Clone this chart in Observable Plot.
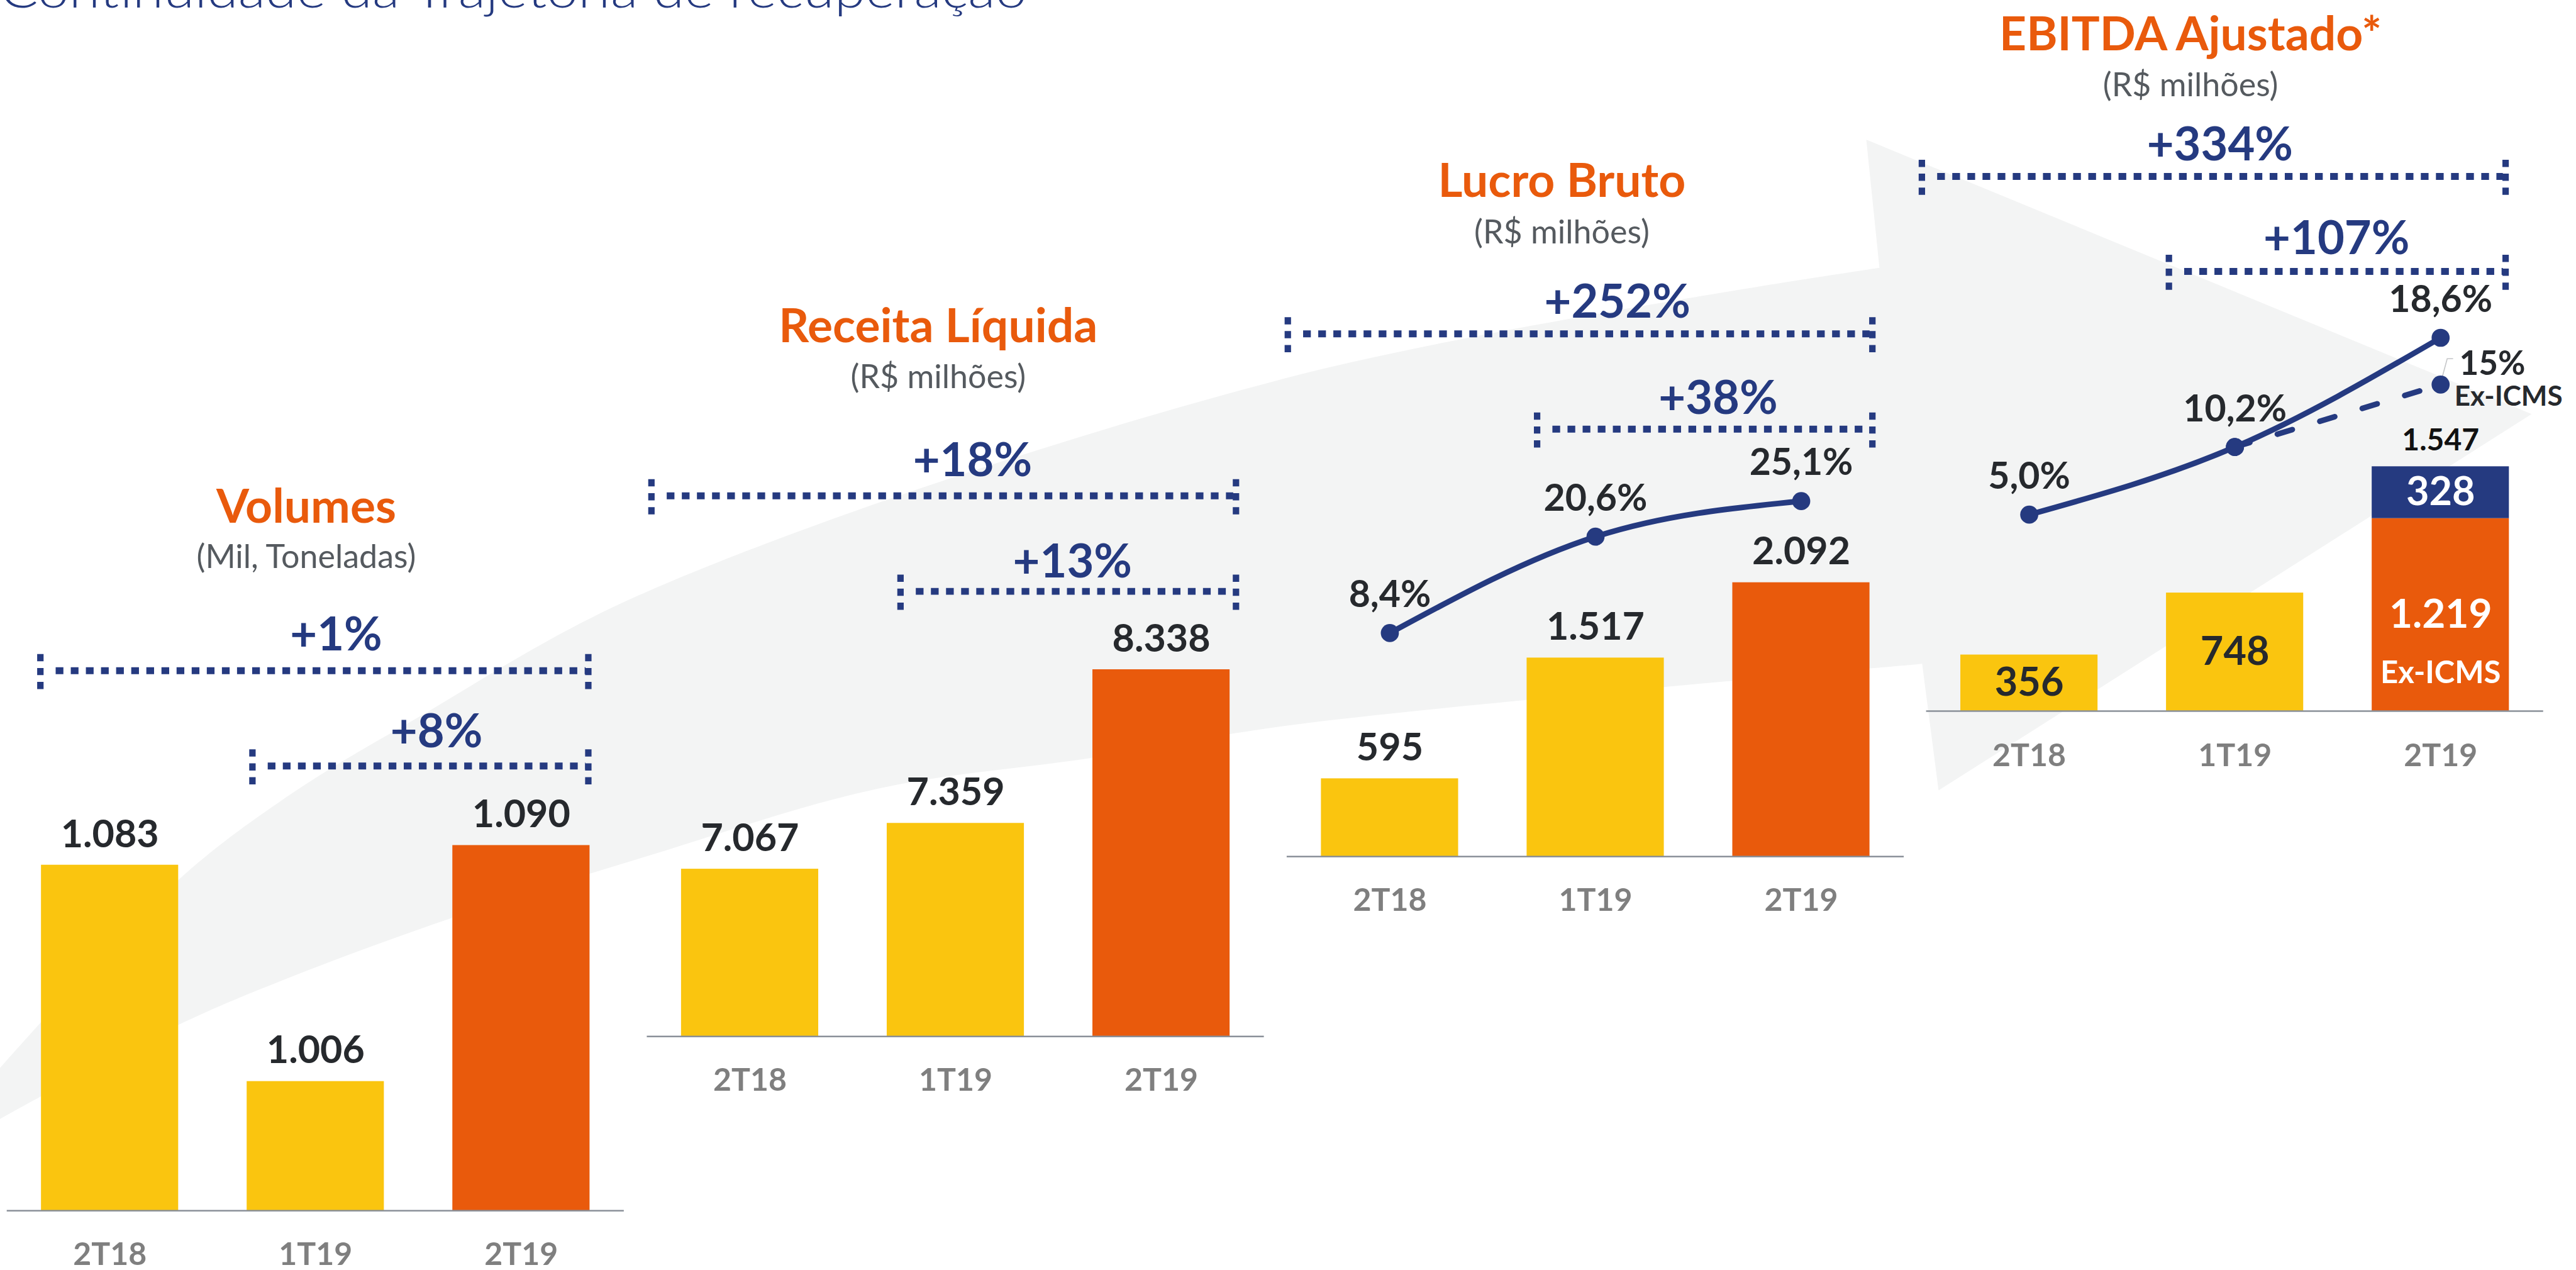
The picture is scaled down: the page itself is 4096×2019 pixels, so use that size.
<!DOCTYPE html>
<html lang="pt-BR">
<head>
<meta charset="utf-8">
<script src="https://cdn.jsdelivr.net/npm/d3@7"></script>
<script src="https://cdn.jsdelivr.net/npm/@observablehq/plot@0.6"></script>
<style>
  html, body { margin: 0; padding: 0; background: #fff; }
  #wrap { position: relative; width: 4096px; height: 2019px; overflow: hidden; background: #fff; }
</style>
</head>
<body>
<div id="wrap"></div>
<script>
// ---------------- data ----------------
const periods = ["2T18", "1T19", "2T19"];
const volumes = [1083, 1006, 1090];
const receitaLiquida = [7067, 7359, 8338];
const lucroBruto = [595, 1517, 2092];
const margemBruta = [8.4, 20.6, 25.1];
const ebitdaExIcms = [356, 748, 1219];
const ebitdaIcms = [0, 0, 328];
const margemEbitda = [5.0, 10.2, 18.6];
const margemEbitdaExIcms = [null, 10.2, 15.0];
const panelTitles = ["Volumes", "Receita Líquida", "Lucro Bruto", "EBITDA Ajustado*"];
const panelUnits = ["(Mil, Toneladas)", "(R$ milhões)", "(R$ milhões)", "(R$ milhões)"];
const growthVolumes = [{from: "2T18", to: "2T19", label: "+1%"}, {from: "1T19", to: "2T19", label: "+8%"}];
const growthReceita = [{from: "2T18", to: "2T19", label: "+18%"}, {from: "1T19", to: "2T19", label: "+13%"}];
const growthLucro = [{from: "2T18", to: "2T19", label: "+252%"}, {from: "1T19", to: "2T19", label: "+38%"}];
const growthEbitda = [{from: "2T18", to: "2T19", label: "+334%"}, {from: "1T19", to: "2T19", label: "+107%"}];
const exIcmsTag = "Ex-ICMS";
const pageTitle = "Continuidade da Trajetória de recuperação";

// ---------------- style / layout ----------------
const W = 4096, H = 2019;
const K = W / 1568; // layout below is given in reference-preview pixels
const NAVY = "#253A80", ORANGE = "#E95A0C", YELLOW = "#FAC50F", DARK = "#26292D",
      GRAY = "#7F7F7F", SUBGRAY = "#555A5F", AXIS = "#8A9099", BG = "#F3F4F4";
const FONT = "Lato, 'Open Sans', 'DejaVu Sans', sans-serif";
const barColors = [YELLOW, YELLOW, ORANGE];
const BW = 0.3335; // half bar width, in category steps

const locale = d3.formatLocale({decimal: ",", thousands: ".", grouping: [3], currency: ["R$", ""]});
const fmtInt = locale.format(",d");
const fmtPct1 = v => locale.format(",.1f")(v) + "%";
const fmtPct0 = v => locale.format(",.0f")(v) + "%";

const layouts = [
  {left: 4.1, right: 379.7, top: 326.2, base: 736.6, yDomain: [960, 1200], tdx: -5.7, ty: 318, uy: 345.6,
   br: [{o1: -0.338, o2: 0.326, line: 408, lx: 0.10, ly: 395.5}, {o1: -0.307, o2: 0.326, line: 466, lx: 0.088, ly: 454.7}]},
  {left: 393.7, right: 769.3, top: 344.1, base: 630.6, yDomain: [6000, 9000], tdx: -10.6, ty: 208, uy: 236,
   br: [{o1: -0.479, o2: 0.363, line: 301.6, lx: 0.082, ly: 289.7}, {o1: -0.268, o2: 0.363, line: 359.7, lx: 0.068, ly: 351.2}]},
  {left: 783.2, right: 1158.8, top: 282.0, base: 521.1, yDomain: [0, 3000], tdx: -20.5, ty: 119.7, uy: 148,
   br: [{o1: -0.496, o2: 0.346, line: 203, lx: 0.106, ly: 193}, {o1: -0.284, o2: 0.346, line: 261, lx: 0.096, ly: 251.6}],
   line: {top: 281.2, bottom: 425.5, yDomain: [0, 30]}},
  {left: 1172.4, right: 1548, top: 240.2, base: 432.6, yDomain: [0, 2000], tdx: -27, ty: 30.4, uy: 58.2,
   br: [{o1: -0.522, o2: 0.316, line: 107.2, lx: -0.073, ly: 97.3}, {o1: -0.321, o2: 0.316, line: 165, lx: -0.006, ly: 154.5}],
   line: {top: 194.3, bottom: 352.6, yDomain: [0, 20]}}
];

const wrap = document.getElementById("wrap");

// ---------------- background arrow + page title ----------------
const bg = d3.select(wrap).append("svg")
  .attr("width", W).attr("height", H)
  .style("position", "absolute").style("left", "0px").style("top", "0px");
const sc = pts => pts.map(([x, y]) => [x * K, y * K]);
const upperEdge = sc([[-10, 662], [0, 650], [108, 536], [176, 484], [252, 438], [394, 360], [787, 229], [1144, 163]]);
const headPts = sc([[1136, 85], [1541, 252], [1180, 481], [1170, 404]]);
const lowerEdge = sc([[1170, 404], [788, 441], [666, 461], [534, 480], [394, 521], [274, 559], [176, 595], [108, 624], [0, 681], [-10, 687]]);
const cr = d3.line().curve(d3.curveCatmullRom);
const arrowD = cr(upperEdge) + headPts.map(p => "L" + p[0] + "," + p[1]).join("") + cr(lowerEdge).replace(/^M/, "L") + "Z";
bg.append("path").attr("d", arrowD).attr("fill", BG);
bg.append("text")
  .attr("x", 0).attr("y", 4.5 * K)
  .attr("font-family", FONT).attr("font-weight", 300).attr("font-size", 78)
  .attr("fill", NAVY)
  .attr("textLength", 625 * K).attr("lengthAdjust", "spacingAndGlyphs")
  .text(pageTitle);

// ---------------- helpers ----------------
function frame(lay, top, bottom, yDomain, marks) {
  const svg = Plot.plot({
    width: W, height: H,
    marginLeft: lay.left * K, marginRight: W - lay.right * K,
    marginTop: top * K, marginBottom: H - bottom * K,
    x: {type: "linear", domain: [-0.5, 2.5], axis: null},
    y: {type: "linear", domain: yDomain, axis: null},
    color: {type: "identity"},
    style: {position: "absolute", left: "0px", top: "0px", background: "transparent", overflow: "visible", fontFamily: FONT},
    marks
  });
  wrap.appendChild(svg);
  return svg;
}

function headerMarks(k, lay) {
  return [
    Plot.text([panelTitles[k]], {frameAnchor: "top", text: d => d, dx: lay.tdx * K, dy: (lay.ty - lay.top) * K,
      lineAnchor: "bottom", fontSize: 75, fontWeight: 700, fill: ORANGE, fontFamily: FONT}),
    Plot.text([panelUnits[k]], {frameAnchor: "top", text: d => d, dx: lay.tdx * K, dy: (lay.uy - lay.top) * K,
      lineAnchor: "bottom", fontSize: 52, fontWeight: 400, fill: SUBGRAY, fontFamily: FONT})
  ];
}

function bracketMarks(growth, lay) {
  const hi = lay.yDomain[1];
  const marks = [];
  growth.forEach((g, j) => {
    const b = lay.br[j];
    const i1 = periods.indexOf(g.from), i2 = periods.indexOf(g.to);
    const a = i1 + b.o1, c = i2 + b.o2;
    marks.push(Plot.ruleY([hi], {x1: () => a, x2: () => c, dy: (b.line - lay.top) * K,
      stroke: NAVY, strokeWidth: 4.2 * K, strokeDasharray: `${4.7 * K},${4.5 * K}`,
      insetLeft: 9.5 * K, insetRight: 1.5 * K}));
    marks.push(Plot.ruleX([a, c], {x: d => d, y1: () => hi, y2: () => hi,
      insetTop: (b.line - 10 - lay.top) * K, insetBottom: -(b.line + 11.5 - lay.top) * K,
      stroke: NAVY, strokeWidth: 3.9 * K, strokeDasharray: `${4.4 * K},${4.1 * K}`}));
    marks.push(Plot.text([g.label], {x: () => (i1 + i2) / 2 + b.lx, y: () => hi, text: d => d,
      dy: (b.ly - lay.top) * K, lineAnchor: "bottom",
      fontSize: 74, fontWeight: 700, fill: NAVY, fontFamily: FONT}));
  });
  return marks;
}

function simpleBarPanel(k, values, growth) {
  const lay = layouts[k];
  const lo = lay.yDomain[0];
  const rows = periods.map((p, i) => ({period: p, i, value: values[i], color: barColors[i]}));
  frame(lay, lay.top, lay.base, lay.yDomain, [
    Plot.rectY(rows, {x1: d => d.i - BW, x2: d => d.i + BW, y1: () => lo, y2: "value", fill: "color"}),
    Plot.ruleY([lo], {stroke: AXIS, strokeWidth: 2.4}),
    Plot.text(rows, {x: "i", y: "value", text: d => fmtInt(d.value), lineAnchor: "bottom", dy: -11 * K,
      fontSize: 61, fontWeight: 700, fill: DARK, fontFamily: FONT}),
    Plot.text(rows, {x: "i", y: () => lo, text: "period", lineAnchor: "bottom", dy: 33 * K,
      fontSize: 50, fontWeight: 700, fill: GRAY, fontFamily: FONT}),
    ...headerMarks(k, lay),
    ...bracketMarks(growth, lay)
  ]);
}

// ---------------- panels 1-3 (bars) ----------------
simpleBarPanel(0, volumes, growthVolumes);
simpleBarPanel(1, receitaLiquida, growthReceita);
simpleBarPanel(2, lucroBruto, growthLucro);

// margem bruta line (panel 3)
{
  const lay = layouts[2];
  const rows = periods.map((p, i) => ({i, v: margemBruta[i]}));
  frame(lay, lay.line.top, lay.line.bottom, lay.line.yDomain, [
    Plot.line(rows, {x: "i", y: "v", curve: "monotone-x", stroke: NAVY, strokeWidth: 3.4 * K}),
    Plot.dot(rows, {x: "i", y: "v", r: 5.5 * K, fill: NAVY, stroke: "none"}),
    Plot.text(rows, {x: "i", y: "v", text: d => fmtPct1(d.v), lineAnchor: "bottom", dy: -15.8 * K,
      fontSize: 59, fontWeight: 700, fill: DARK, fontFamily: FONT})
  ]);
}

// ---------------- panel 4 (EBITDA, stacked) ----------------
{
  const lay = layouts[3];
  const segs = [];
  periods.forEach((p, i) => {
    segs.push({i, y1: 0, y2: ebitdaExIcms[i], color: barColors[i], part: "base", value: ebitdaExIcms[i]});
    if (ebitdaIcms[i] > 0) segs.push({i, y1: ebitdaExIcms[i], y2: ebitdaExIcms[i] + ebitdaIcms[i], color: NAVY, part: "icms", value: ebitdaIcms[i]});
  });
  const stacked = segs.filter(d => d.part === "icms");
  const totals = stacked.map(d => ({i: d.i, total: d.y2}));
  const exBase = segs.filter(d => d.part === "base" && ebitdaIcms[d.i] > 0);
  const plainBase = segs.filter(d => d.part === "base" && !(ebitdaIcms[d.i] > 0));
  const rows = periods.map((p, i) => ({period: p, i}));
  frame(lay, lay.top, lay.base, lay.yDomain, [
    Plot.rectY(segs, {x1: d => d.i - BW, x2: d => d.i + BW, y1: "y1", y2: "y2", fill: "color"}),
    Plot.ruleY([0], {stroke: AXIS, strokeWidth: 2.4}),
    Plot.text(plainBase, {x: "i", y: d => (d.y1 + d.y2) / 2, text: d => fmtInt(d.value),
      fontSize: 63, fontWeight: 700, fill: DARK, fontFamily: FONT}),
    Plot.text(exBase, {x: "i", y: d => (d.y1 + d.y2) / 2, text: d => fmtInt(d.value),
      fontSize: 64, fontWeight: 700, fill: "#FFFFFF", fontFamily: FONT}),
    Plot.text(exBase, {x: "i", y: d => (d.y1 + d.y2) / 2, text: () => exIcmsTag, lineAnchor: "bottom", dy: 41.5 * K,
      fontSize: 49, fontWeight: 700, fill: "#FFFFFF", fontFamily: FONT}),
    Plot.text(stacked, {x: "i", y: d => (d.y1 + d.y2) / 2, text: d => fmtInt(d.value),
      fontSize: 63, fontWeight: 700, fill: "#FFFFFF", fontFamily: FONT}),
    Plot.text(totals, {x: "i", y: "total", text: d => fmtInt(d.total), lineAnchor: "bottom", dy: -10 * K,
      fontSize: 48, fontWeight: 700, fill: "#111111", fontFamily: FONT}),
    Plot.text(rows, {x: "i", y: () => 0, text: "period", lineAnchor: "bottom", dy: 33.6 * K,
      fontSize: 50, fontWeight: 700, fill: GRAY, fontFamily: FONT}),
    ...headerMarks(3, lay),
    ...bracketMarks(growthEbitda, lay)
  ]);

  const mrows = periods.map((p, i) => ({i, v: margemEbitda[i]}));
  const xrows = periods.map((p, i) => ({i, v: margemEbitdaExIcms[i]}));
  const xlast = xrows.filter(d => d.v != null).slice(-1);
  // thin gray leader from the ex-ICMS point to its label
  const leader = (index, scales) => {
    const g = d3.create("svg:g");
    xlast.forEach(d => {
      const px = scales.x(d.i), py = scales.y(d.v);
      g.append("path")
        .attr("d", `M${px},${py}L${px + 4.2 * K},${py - 15.6 * K}L${px + 7.8 * K},${py - 15.6 * K}`)
        .attr("fill", "none").attr("stroke", "#C4C6C8").attr("stroke-width", 1.6);
    });
    return g.node();
  };
  frame(lay, lay.line.top, lay.line.bottom, lay.line.yDomain, [
    leader,
    Plot.line(xrows, {x: "i", y: "v", stroke: NAVY, strokeWidth: 3.4 * K, strokeLinecap: "round",
      strokeDasharray: `${9.5 * K},${17.5 * K}`}),
    Plot.line(mrows, {x: "i", y: "v", curve: "monotone-x", stroke: NAVY, strokeWidth: 3.4 * K}),
    Plot.dot(xrows, {x: "i", y: "v", r: 5.5 * K, fill: NAVY, stroke: "none"}),
    Plot.dot(mrows, {x: "i", y: "v", r: 5.5 * K, fill: NAVY, stroke: "none"}),
    Plot.text(mrows, {x: "i", y: "v", text: d => fmtPct1(d.v), lineAnchor: "bottom", dy: -15.7 * K,
      fontSize: 59, fontWeight: 700, fill: DARK, fontFamily: FONT}),
    Plot.text(xlast, {x: "i", y: "v", text: d => fmtPct0(d.v), textAnchor: "start", lineAnchor: "bottom",
      dx: 11.4 * K, dy: -6 * K, fontSize: 53, fontWeight: 700, fill: DARK, fontFamily: FONT}),
    Plot.text(xlast, {x: "i", y: "v", text: () => exIcmsTag, textAnchor: "start", lineAnchor: "bottom",
      dx: 8.4 * K, dy: 12.8 * K, fontSize: 44, fontWeight: 700, fill: DARK, fontFamily: FONT})
  ]);
}
</script>
</body>
</html>
